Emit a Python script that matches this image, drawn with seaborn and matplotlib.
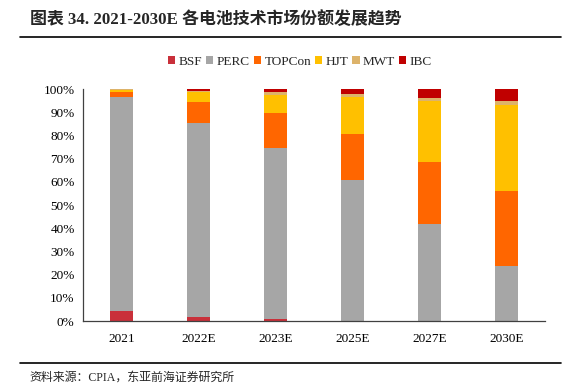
import numpy as np
import pandas as pd
import matplotlib
matplotlib.use("Agg")
import matplotlib.pyplot as plt
from matplotlib.patches import Patch
from matplotlib.lines import Line2D
import seaborn as sns

sns.set_style("white")
plt.rcParams['font.family'] = ['Liberation Serif', 'Noto Sans CJK SC', 'DejaVu Sans']

years = ['2021', '2022E', '2023E', '2025E', '2027E', '2030E']
techs = ['BSF', 'PERC', 'TOPCon', 'HJT', 'MWT', 'IBC']
bsf = [4.5, 1.6, 0.7, 0.0, 0.0, 0.0]
perc = [92.0, 83.7, 73.7, 60.9, 41.9, 23.5]
topcon = [2.0, 9.2, 15.3, 19.8, 26.5, 32.4]
hjt = [1.0, 4.2, 7.5, 15.9, 26.3, 37.3]
mwt = [0.5, 0.5, 1.5, 1.1, 1.4, 1.8]
ibc = [0.0, 0.8, 1.3, 2.3, 3.9, 5.0]
colors = ['#C9303A', '#A6A6A6', '#FF6600', '#FFC000', '#DDB36A', '#C00000']

shares = [bsf, perc, topcon, hjt, mwt, ibc]

fig = plt.figure(figsize=(5.71, 3.87), dpi=100)
ax = fig.add_axes([83 / 571, 1 - 321 / 387, 462 / 571, 232 / 387])

bottom = np.zeros(len(years))
for name, vals, c in zip(techs, shares, colors):
    df = pd.DataFrame({'year': years, 'share': vals})
    sns.barplot(data=df, x='year', y='share', order=years, color=c,
                bottom=bottom, width=0.31, linewidth=0, saturation=1, ax=ax)
    bottom = bottom + np.array(vals)

ax.set_xlim(-0.5, 5.5)
ax.set_ylim(0, 100)
ax.set_yticks(np.arange(0, 101, 10))
ax.set_yticklabels([f'{v}%' for v in range(0, 101, 10)])
ax.set_xlabel('')
ax.set_ylabel('')
ax.tick_params(axis='both', length=0, labelsize=9.5, colors='black')
ax.tick_params(axis='x', pad=9)
ax.tick_params(axis='y', pad=6)
for s in ['top', 'right']:
    ax.spines[s].set_visible(False)
for s in ['left', 'bottom']:
    ax.spines[s].set_color('#404040')
    ax.spines[s].set_linewidth(0.9)

handles = [Patch(facecolor=c, edgecolor='none') for c in colors]
fig.legend(handles, techs, loc='center', bbox_to_anchor=(300 / 571, 1 - 62 / 387),
           ncol=6, frameon=False, fontsize=9.5, handlelength=0.55, handleheight=0.55,
           handletextpad=0.25, columnspacing=0.3, borderpad=0.2)

fig.text(30 / 571, 1 - 20 / 387, '图表 34. 2021-2030E 各电池技术市场份额发展趋势',
         fontsize=12.2, fontweight='bold', va='center', ha='left')
fig.add_artist(Line2D([20 / 571, 561 / 571], [1 - 37 / 387] * 2, color='black', lw=1.2))
fig.add_artist(Line2D([20 / 571, 561 / 571], [1 - 363 / 387] * 2, color='black', lw=1.2))
fig.text(29 / 571, 1 - 378 / 387, '资料来源：CPIA，东亚前海证券研究所',
         fontsize=8.6, va='center', ha='left')

fig.savefig('out.png', dpi=100)
